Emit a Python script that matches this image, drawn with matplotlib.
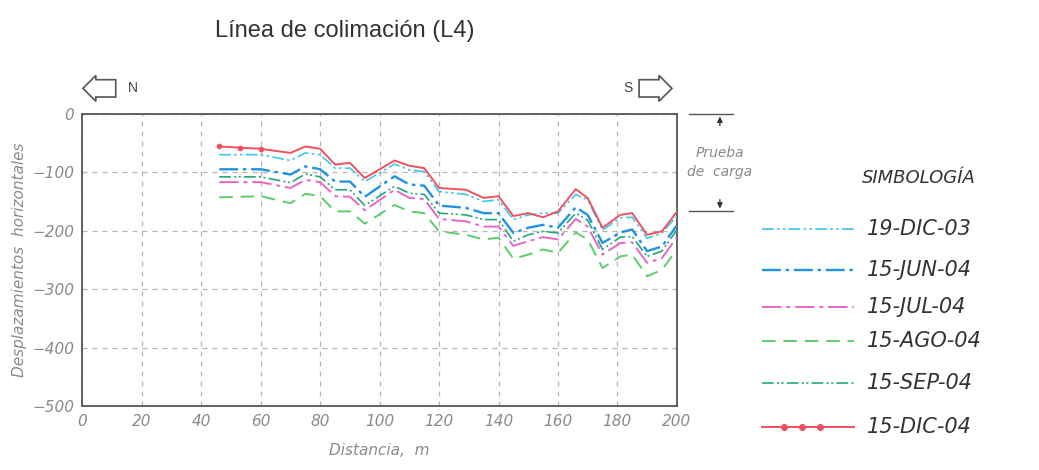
"""Línea de colimación (L4): desplazamientos horizontales vs distancia."""
import matplotlib
matplotlib.use('Agg')
import matplotlib.pyplot as plt
from matplotlib.lines import Line2D

# --- data ---
distancia = [46, 53, 60, 70, 75, 80, 85, 90, 95, 105, 110, 115, 120, 129,
             135, 140, 145, 150, 155, 160, 166, 170, 175, 181, 185, 190, 195, 200]
dic03 = [-70, -70, -70, -80, -67, -70, -93, -93, -116, -86, -96, -99, -133, -138,
         -150, -147, -181, -173, -170, -170, -138, -147, -199, -178, -177, -213, -204, -175]
jun04 = [-95, -95, -95, -104, -90, -95, -116, -116, -142, -107, -121, -123, -157, -161,
         -170, -170, -204, -195, -190, -195, -160, -173, -221, -203, -198, -235, -227, -191]
jul04 = [-117, -117, -117, -127, -113, -117, -141, -142, -165, -130, -144, -146, -180, -184,
         -193, -193, -226, -218, -211, -215, -180, -193, -241, -221, -220, -255, -247, -211]
ago04 = [-143, -142, -141, -153, -137, -141, -167, -167, -188, -156, -167, -170, -201, -207,
         -215, -212, -248, -241, -232, -238, -203, -215, -264, -244, -241, -278, -267, -232]
sep04 = [-108, -108, -108, -118, -103, -108, -130, -130, -157, -124, -136, -138, -170, -173,
         -181, -181, -218, -207, -201, -204, -170, -182, -232, -211, -210, -244, -235, -199]
dic04 = [-56, -58, -60, -67, -56, -60, -87, -84, -110, -80, -89, -93, -127, -130,
         -144, -141, -175, -170, -177, -167, -129, -144, -195, -173, -170, -207, -201, -168]

series = [
    ('19-DIC-03', dic03, '#3cc8ea', (0, (7, 2, 1.5, 2, 1.5, 2)), 1.2, None),
    ('15-JUN-04', jun04, '#1f93e0', (0, (8, 2, 1.5, 2)), 1.7, None),
    ('15-JUL-04', jul04, '#e565c8', (0, (10, 2.5, 2, 2.5)), 1.4, None),
    ('15-AGO-04', ago04, '#5ccd6a', (0, (7, 4)), 1.4, None),
    ('15-SEP-04', sep04, '#20a878', (0, (7, 2, 1.2, 1.5, 1.2, 2)), 1.2, None),
    ('15-DIC-04', dic04, '#f2505e', '-', 1.4, 'o'),
]

GREY = '#8a8a8a'

fig = plt.figure(figsize=(10.39, 4.70), dpi=100, facecolor='white')
ax = fig.add_axes([0.0794, 0.136, 0.572, 0.622])

for label, vals, col, ls, lw, mk in series:
    ax.plot(distancia, vals, color=col, linestyle=ls, linewidth=lw,
            marker=mk, markersize=3, markevery=[0, 1, 2], zorder=3)

ax.set_xlim(0, 200)
ax.set_ylim(-500, 0)
ax.set_xticks(range(0, 201, 20))
ax.set_yticks(range(-500, 1, 100))
ax.set_yticklabels(['\u2212500', '\u2212400', '\u2212300', '\u2212200', '\u2212100', '0'])
ax.tick_params(length=0, labelsize=11, labelcolor=GREY, pad=6)
for t in ax.get_xticklabels() + ax.get_yticklabels():
    t.set_fontstyle('italic')
ax.grid(True, color='#b5b5b5', linestyle=(0, (4, 4)), linewidth=0.9)
for s in ax.spines.values():
    s.set_color('#555555')
    s.set_linewidth(1.3)

ax.set_xlabel('Distancia,  m', fontsize=11, color=GREY, style='italic', labelpad=10)
ax.set_ylabel('Desplazamientos  horizontales', fontsize=11, color=GREY,
              style='italic', labelpad=4)

fig.text(0.332, 0.935, 'Línea de colimación (L4)', fontsize=17, color='#333333',
         ha='center', va='center', family='Liberation Sans')

# N / S direction arrows
arrow_kw = dict(fc='white', ec='#555555', lw=1.2)
fig.text(0.0985, 0.812, '      ', fontsize=7.5, ha='center', va='center',
         bbox=dict(boxstyle='larrow,pad=0.35', **arrow_kw))
fig.text(0.123, 0.812, 'N', fontsize=10, color='#444444', va='center',
         family='Liberation Sans')
fig.text(0.628, 0.812, '      ', fontsize=7.5, ha='center', va='center',
         bbox=dict(boxstyle='rarrow,pad=0.35', **arrow_kw))
fig.text(0.600, 0.812, 'S', fontsize=10, color='#444444', va='center',
         family='Liberation Sans')

# "Prueba de carga" dimension
top_y, bot_y = 0, -167
ax.plot([204, 219], [top_y, top_y], color='#555555', lw=1, clip_on=False)
ax.plot([204, 219], [bot_y, bot_y], color='#555555', lw=1, clip_on=False)
ax.annotate('', xy=(214.5, top_y), xytext=(214.5, top_y - 25), annotation_clip=False,
            arrowprops=dict(arrowstyle='-|>', color='#333333', lw=0.9, mutation_scale=8))
ax.annotate('', xy=(214.5, bot_y), xytext=(214.5, bot_y + 25), annotation_clip=False,
            arrowprops=dict(arrowstyle='-|>', color='#333333', lw=0.9, mutation_scale=8))
ax.text(214.5, (top_y + bot_y) / 2, 'Prueba\nde  carga', fontsize=10, color=GREY,
        style='italic', ha='center', va='center', linespacing=1.4, clip_on=False)

# SIMBOLOGÍA legend, drawn by hand
fig.text(0.830, 0.621, 'SIMBOLOGÍA', fontsize=13, color='#333333', style='italic',
         va='center')
legend_y = [0.513, 0.426, 0.347, 0.274, 0.185, 0.091]
for (label, vals, col, ls, lw, mk), yy in zip(series, legend_y):
    xs = [0.733, 0.755, 0.772, 0.789, 0.822] if mk else [0.733, 0.822]
    line = Line2D(xs, [yy] * len(xs), transform=fig.transFigure, color=col,
                  linestyle=ls, linewidth=lw, marker=mk, markersize=4,
                  markevery=[1, 2, 3] if mk else None)
    fig.add_artist(line)
    fig.text(0.834, yy, label, fontsize=15, color='#333333', style='italic',
             va='center')

fig.savefig('out.png', dpi=100, facecolor='white')
